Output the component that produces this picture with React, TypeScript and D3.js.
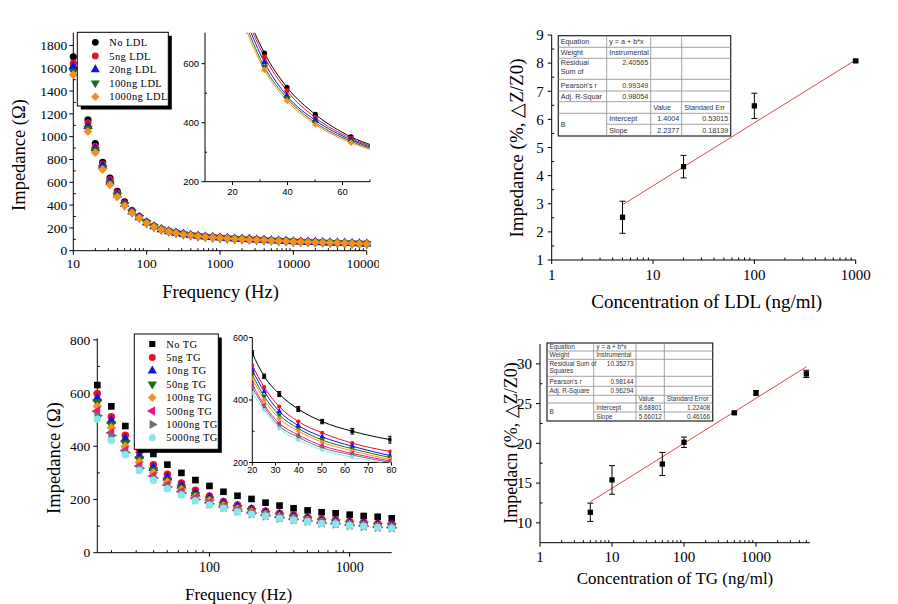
import * as d3 from "d3";

const SERIF = "'Liberation Serif', 'Times New Roman', serif";
const SANS = "'Liberation Sans', Arial, sans-serif";

// ---------- top-left: impedance spectra with LDL ----------
const ldlFreq = [10, 15.85, 19.95, 25.12, 31.62, 39.81, 50.12, 63.1, 79.43, 100, 125.9, 158.5, 199.5, 251.2, 316.2, 398.1, 501.2, 631, 794.3, 1000, 1259, 1585, 1995, 2512, 3162, 3981, 5012, 6310, 7943, 10000, 12589, 15849, 19953, 25119, 31623, 39811, 50119, 63096, 79433, 100000];
const ldlNone = [1700, 1148, 940, 775, 636, 520, 428, 352, 300, 252, 216, 190, 172, 158, 147, 138, 131, 125, 120, 115, 111, 107, 104, 101, 98, 95, 92, 89, 86, 83, 80, 78, 76, 74, 72, 70, 68, 66, 64, 62];
const ldl5 = [1645, 1120, 915, 760, 623, 508, 417, 347, 296, 249, 214, 189, 171, 157, 146, 137, 130, 124, 119, 114, 110, 106, 103, 100, 97, 94, 91, 88, 85, 82, 79, 77, 75, 73, 71, 69, 67, 65, 63, 61];
const ldl20 = [1615, 1092, 897, 745, 605, 491, 408, 342, 292, 246, 212, 187, 169, 156, 145, 136, 129, 123, 118, 113, 109, 105, 102, 99, 96, 93, 90, 87, 84, 81, 79, 77, 75, 73, 71, 69, 67, 65, 63, 61];
const ldl100 = [1572, 1072, 880, 728, 589, 483, 400, 337, 289, 244, 210, 186, 168, 155, 144, 135, 128, 122, 117, 112, 108, 104, 101, 98, 95, 92, 89, 86, 83, 80, 78, 76, 74, 72, 70, 68, 66, 64, 62, 60];
const ldl1000 = [1543, 1045, 860, 712, 579, 474, 394, 332, 286, 242, 209, 185, 167, 154, 143, 134, 127, 121, 116, 111, 107, 103, 100, 97, 94, 91, 88, 85, 82, 79, 77, 75, 73, 71, 69, 67, 65, 63, 61, 59];
const ldlSeries = [ldlNone, ldl5, ldl20, ldl100, ldl1000];
const ldlNames = ["No LDL", "5ng LDL", "20ng LDL", "100ng LDL", "1000ng LDL"];
const ldlColors = ["#000000", "#e8102a", "#1414dc", "#1d6b1d", "#f5901e"];
const ldlShapes: [d3.SymbolType, number][] = [
  [d3.symbolCircle, 0], [d3.symbolCircle, 0], [d3.symbolTriangle, 0], [d3.symbolTriangle, 180], [d3.symbolSquare, 45],
];
const freqTicksTop = [10, 100, 1000, 10000, 100000];
const impTicksTop = [0, 200, 400, 600, 800, 1000, 1200, 1400, 1600, 1800];
const insetTopX = [20, 40, 60];
const insetTopY = [200, 400, 600];

// ---------- top-right: LDL calibration ----------
const ldlConc = [5, 20, 100, 1000];
const ldlResp = [2.52, 4.32, 6.48, 8.08];
const ldlErr = [0.57, 0.4, 0.45, 0.05];
const ldlIntercept = 1.4004;
const ldlSlope = 2.2377;
const concTicksLdl = [1, 10, 100, 1000];
const respTicksLdl = [1, 2, 3, 4, 5, 6, 7, 8, 9];
const ldlTable = [
  ["Equation", "y = a + b*x", "", ""],
  ["Weight", "Instrumental", "", ""],
  ["Residual\nSum of", "2.40565", "", ""],
  ["Pearson's r", "0.99349", "", ""],
  ["Adj. R-Squar", "0.98054", "", ""],
  ["", "", "Value", "Standard Err"],
  ["B", "Intercept", "1.4004", "0.53015"],
  ["", "Slope", "2.2377", "0.18139"],
];

// ---------- bottom-left: impedance spectra with TG ----------
const tgFreq = [15.85, 19.95, 25.12, 31.62, 39.81, 50.12, 63.1, 79.43, 100, 125.9, 158.5, 199.5, 251.2, 316.2, 398.1, 501.2, 631, 794.3, 1000, 1259, 1585, 1995];
const tgNone = [630, 550, 476, 419, 371, 331, 300, 273, 251, 229, 214, 202, 188, 177, 167, 159, 152, 148, 143, 138, 135, 129];
const tgNoneErr = [8, 8, 7, 8, 8, 7, 9, 11, 6, 6, 5, 5, 5, 5, 5, 5, 5, 5, 5, 5, 5, 5];
const tg5 = [598, 511, 441, 379, 331, 295, 262, 235, 213, 192, 179, 166, 157, 148, 142, 132, 126, 123, 117, 114, 110, 108];
const tg10 = [580, 496, 427, 364, 318, 282, 252, 222, 205, 186, 173, 161, 151, 143, 136, 128, 121, 118, 112, 109, 105, 103];
const tg50 = [566, 482, 412, 352, 309, 272, 244, 216, 200, 181, 168, 157, 147, 139, 132, 125, 118, 114, 109, 106, 102, 100];
const tg100 = [550, 470, 400, 341, 301, 265, 237, 210, 195, 177, 164, 153, 144, 136, 129, 122, 115, 112, 106, 103, 99, 97];
const tg500 = [532, 451, 384, 326, 288, 254, 229, 205, 188, 172, 159, 149, 141, 133, 126, 120, 113, 110, 104, 101, 97, 95];
const tg1000 = [515, 440, 377, 317, 281, 247, 224, 200, 184, 170, 157, 147, 139, 131, 125, 119, 112, 109, 103, 100, 96, 94];
const tg5000 = [502, 422, 368, 309, 272, 240, 217, 195, 179, 167, 154, 145, 138, 129, 123, 117, 110, 108, 102, 99, 95, 92];
const tgSeries = [tgNone, tg5, tg10, tg50, tg100, tg500, tg1000, tg5000];
const tgNames = ["No TG", "5ng TG", "10ng TG", "50ng TG", "100ng TG", "500ng TG", "1000ng TG", "5000ng TG"];
const tgColors = ["#000000", "#e8102a", "#1414dc", "#1d6b1d", "#f5901e", "#f0148c", "#707070", "#86e8ee"];
const tgShapes: [d3.SymbolType, number][] = [
  [d3.symbolSquare, 0], [d3.symbolCircle, 0], [d3.symbolTriangle, 0], [d3.symbolTriangle, 180],
  [d3.symbolSquare, 45], [d3.symbolTriangle, -90], [d3.symbolTriangle, 90], [d3.symbolCircle, 0],
];
const freqTicksBottom = [100, 1000];
const impTicksBottom = [0, 200, 400, 600, 800];
const insetBottomX = [20, 30, 40, 50, 60, 70, 80];
const insetBottomY = [200, 400, 600];

// ---------- bottom-right: TG calibration ----------
const tgConc = [5, 10, 50, 100, 500, 1000, 5000];
const tgResp = [11.33, 15.4, 17.4, 20.14, 23.84, 26.35, 28.74];
const tgErr = [1.15, 1.8, 1.45, 0.65, 0.15, 0.3, 0.45];
const tgIntercept = 8.68801;
const tgSlope = 5.66012;
const concTicksTg = [1, 10, 100, 1000];
const respTicksTg = [10, 15, 20, 25, 30];
const tgTable = [
  ["Equation", "y = a + b*x", "", ""],
  ["Weight", "Instrumental", "", ""],
  ["Residual Sum of\nSquares", "10.35273", "", ""],
  ["Pearson's r", "0.98144", "", ""],
  ["Adj. R-Square", "0.96294", "", ""],
  ["", "", "Value", "Standard Error"],
  ["B", "Intercept", "8.68801", "1.22408"],
  ["", "Slope", "5.66012", "0.46166"],
];

type Scale = d3.ScaleLinear<number, number> | d3.ScaleLogarithmic<number, number>;

const sym = (type: d3.SymbolType, size: number) => d3.symbol().type(type).size(size)() ?? "";

function Marker({ x, y, shape, size, color }: { x: number; y: number; shape: [d3.SymbolType, number]; size: number; color: string }) {
  return <path d={sym(shape[0], size)} transform={`translate(${x},${y}) rotate(${shape[1]})`} fill={color} />;
}

function BottomAxis({ scale, y, major, minor, fontSize, font, labelGap = 14, fmt = (v: number) => String(v) }: {
  scale: Scale; y: number; major: number[]; minor: number[]; fontSize: number; font: string; labelGap?: number; fmt?: (v: number) => string;
}) {
  const [r0, r1] = scale.range();
  return (
    <g>
      <line x1={r0} x2={r1} y1={y} y2={y} stroke="#000" />
      {minor.map((v, i) => (
        <line key={"m" + i} x1={scale(v)} x2={scale(v)} y1={y} y2={y - 2.5} stroke="#000" />
      ))}
      {major.map((v) => (
        <g key={v}>
          <line x1={scale(v)} x2={scale(v)} y1={y} y2={y + 4} stroke="#000" />
          <text x={scale(v)} y={y + labelGap} dy="0.35em" textAnchor="middle" fontSize={fontSize} fontFamily={font}>{fmt(v)}</text>
        </g>
      ))}
    </g>
  );
}

function LeftAxis({ scale, x, major, minor, fontSize, font, labelGap = 6 }: {
  scale: Scale; x: number; major: number[]; minor: number[]; fontSize: number; font: string; labelGap?: number;
}) {
  const [r0, r1] = scale.range();
  return (
    <g>
      <line x1={x} x2={x} y1={r0} y2={r1} stroke="#000" />
      {minor.map((v, i) => (
        <line key={"m" + i} x1={x} x2={x + 2.5} y1={scale(v)} y2={scale(v)} stroke="#000" />
      ))}
      {major.map((v) => (
        <g key={v}>
          <line x1={x} x2={x - 4} y1={scale(v)} y2={scale(v)} stroke="#000" />
          <text x={x - labelGap} y={scale(v)} dy="0.35em" textAnchor="end" fontSize={fontSize} fontFamily={font}>{v}</text>
        </g>
      ))}
    </g>
  );
}

function FitTable({ rows, colX, rowY, fontSize }: { rows: string[][]; colX: number[]; rowY: number[]; fontSize: number }) {
  const isNum = (s: string) => /^[0-9.]+$/.test(s);
  const lines: JSX.Element[] = [];
  rowY.forEach((yy, i) => {
    if (i === 0 || i === rowY.length - 1) return;
    // merged "B" cell spans the last two rows
    const x0 = i === rowY.length - 2 ? colX[1] : colX[0];
    lines.push(<line key={"h" + i} x1={x0} x2={colX[4]} y1={yy} y2={yy} stroke="#8a8a8a" strokeWidth={0.8} />);
  });
  colX.slice(1, 4).forEach((xx, i) => {
    lines.push(<line key={"v" + i} x1={xx} x2={xx} y1={rowY[0]} y2={rowY[rowY.length - 1]} stroke="#8a8a8a" strokeWidth={0.8} />);
  });
  const cells: JSX.Element[] = [];
  rows.forEach((row, r) => {
    row.forEach((txt, c) => {
      if (!txt) return;
      const parts = txt.split("\n");
      const y0 = rowY[r];
      let y1 = rowY[r + 1];
      if (txt === "B") y1 = rowY[r + 2];
      const right = isNum(txt);
      const tx = right ? colX[c + 1] - 2.5 : colX[c] + 2.5;
      const lh = fontSize * 1.15;
      const top = parts.length > 1 ? y0 + lh * 0.85 : (y0 + y1) / 2 + fontSize * 0.35;
      const ty = right && parts.length === 1 && r === 2 ? y0 + lh * 0.85 : top;
      parts.forEach((p, k) => {
        cells.push(
          <text key={`${r}-${c}-${k}`} x={tx} y={ty + k * lh} textAnchor={right ? "end" : "start"} fontSize={fontSize} fontFamily={SANS} fill="#333">{p}</text>
        );
      });
    });
  });
  return (
    <g>
      <rect x={colX[0]} y={rowY[0]} width={colX[4] - colX[0]} height={rowY[rowY.length - 1] - rowY[0]} fill="#fff" stroke="#222" strokeWidth={1.2} />
      {lines}
      {cells}
    </g>
  );
}

function Legend({ x, y, w, h, names, colors, shapes, step, size, fontSize }: {
  x: number; y: number; w: number; h: number; names: string[]; colors: string[]; shapes: [d3.SymbolType, number][]; step: number; size: number; fontSize: number;
}) {
  return (
    <g>
      <rect x={x + 3.5} y={y + 3.5} width={w} height={h} fill="#000" />
      <rect x={x} y={y} width={w} height={h} fill="#fff" stroke="#000" />
      {names.map((n, i) => (
        <g key={n}>
          <Marker x={x + 18} y={y + 10 + i * step} shape={shapes[i]} size={size} color={colors[i]} />
          <text x={x + 32} y={y + 10 + i * step} dy="0.35em" fontSize={fontSize} fontFamily={SERIF} letterSpacing={0.4}>{n}</text>
        </g>
      ))}
    </g>
  );
}

export default function App() {
  // ---- panel A (top-left)
  const xA = d3.scaleLog().domain([10, 100000]).range([73.3, 366.7]);
  const yA = d3.scaleLinear().domain([0, 1912]).range([250.7, 32.7]);
  const ixA = d3.scaleLinear().domain([10, 70]).range([205, 370]);
  const iyA = d3.scaleLinear().domain([200, 705]).range([181.7, 32.7]);

  // ---- panel B (top-right)
  const xB = d3.scaleLog().domain([1, 1000]).range([551.7, 855.7]);
  const yB = d3.scaleLinear().domain([1, 9]).range([260, 35]);

  // ---- panel C (bottom-left)
  const xC = d3.scaleLog().domain([15.85, 1995]).range([97.3, 391.7]);
  const yC = d3.scaleLinear().domain([0, 805]).range([552.7, 338.5]);
  const ixC = d3.scaleLinear().domain([20, 80]).range([252.3, 391.5]);
  const iyC = d3.scaleLinear().domain([200, 600]).range([462.5, 337.5]);

  // ---- panel D (bottom-right)
  const xD = d3.scaleLog().domain([1, 5623]).range([540, 810]);
  const yD = d3.scaleLinear().domain([7.5, 32.5]).range([542.7, 344]);

  const logMinor = (s: d3.ScaleLogarithmic<number, number>, major: number[]) =>
    s.ticks().filter((t) => !major.some((m) => Math.abs(m - t) < 1e-9));

  const curve = d3.line().curve(d3.curveMonotoneX);
  const fitLine = d3.line();

  return (
    <svg width={898} height={604} style={{ position: "absolute", left: 0, top: 0, background: "#fff" }}>
      <defs>
        <clipPath id="clipA"><rect x={0} y={0} width={379} height={310} /></clipPath>
        <clipPath id="insetA"><rect x={205} y={32.7} width={165} height={149} /></clipPath>
        <clipPath id="insetC"><rect x={252.3} y={337.5} width={139.2} height={125} /></clipPath>
      </defs>

      {/* ===== Panel A ===== */}
      <g clipPath="url(#clipA)">
        <LeftAxis scale={yA} x={73.3} major={impTicksTop} minor={d3.range(100, 1900, 200)} fontSize={13.5} font={SERIF} />
        <BottomAxis scale={xA} y={250.7} major={freqTicksTop} minor={logMinor(xA, freqTicksTop)} fontSize={13.5} font={SERIF} labelGap={13} />
        {ldlSeries.map((s, k) => (
          <g key={k}>
            {s.map((v, i) => (
              <Marker key={i} x={xA(ldlFreq[i])} y={yA(v)} shape={ldlShapes[k]} size={40} color={ldlColors[k]} />
            ))}
          </g>
        ))}
        {/* inset */}
        <line x1={205} x2={205} y1={32.7} y2={181.7} stroke="#000" />
        <line x1={205} x2={370} y1={181.7} y2={181.7} stroke="#000" />
        {insetTopY.map((v) => (
          <g key={v}>
            <line x1={205} x2={201.5} y1={iyA(v)} y2={iyA(v)} stroke="#000" />
            <text x={199} y={iyA(v)} dy="0.35em" textAnchor="end" fontSize={9.5} fontFamily={SANS}>{v}</text>
          </g>
        ))}
        {[300, 500].map((v) => <line key={v} x1={205} x2={207} y1={iyA(v)} y2={iyA(v)} stroke="#000" />)}
        {insetTopX.map((v) => (
          <g key={v}>
            <line x1={ixA(v)} x2={ixA(v)} y1={181.7} y2={185} stroke="#000" />
            <text x={ixA(v)} y={192} dy="0.35em" textAnchor="middle" fontSize={9.5} fontFamily={SANS}>{v}</text>
          </g>
        ))}
        {[30, 50, 70].map((v) => <line key={v} x1={ixA(v)} x2={ixA(v)} y1={181.7} y2={179.5} stroke="#000" />)}
        <g clipPath="url(#insetA)">
          {ldlSeries.map((s, k) => {
            const pts = s
              .map((v, i) => [ixA(ldlFreq[i]), iyA(v)] as [number, number])
              .filter((_, i) => ldlFreq[i] >= 15 && ldlFreq[i] <= 100);
            return <path key={k} d={curve(pts) ?? ""} fill="none" stroke={ldlColors[k]} strokeWidth={1} />;
          })}
          {ldlSeries.map((s, k) => (
            <g key={k}>
              {s.map((v, i) => (ldlFreq[i] > 25 && ldlFreq[i] < 70 ? (
                <Marker key={i} x={ixA(ldlFreq[i])} y={iyA(v)} shape={ldlShapes[k]} size={22} color={ldlColors[k]} />
              ) : null))}
            </g>
          ))}
        </g>
        <Legend x={77.3} y={32.3} w={91} h={73.7} names={ldlNames} colors={ldlColors} shapes={ldlShapes} step={13.6} size={36} fontSize={10.5} />
        <text transform="translate(25,155) rotate(-90)" textAnchor="middle" fontSize={18.5} fontFamily={SERIF}>Impedance (Ω)</text>
        <text x={220.5} y={298} textAnchor="middle" fontSize={18.5} fontFamily={SERIF}>Frequency (Hz)</text>
      </g>

      {/* ===== Panel B ===== */}
      <LeftAxis scale={yB} x={551.7} major={respTicksLdl} minor={d3.range(1.5, 9, 1)} fontSize={15} font={SERIF} labelGap={8} />
      <BottomAxis scale={xB} y={260} major={concTicksLdl} minor={logMinor(xB, concTicksLdl)} fontSize={15} font={SERIF} labelGap={15} />
      <path
        d={fitLine([ldlConc[0], ldlConc[ldlConc.length - 1]].map((c) => [xB(c), yB(ldlIntercept + ldlSlope * Math.log10(c))] as [number, number])) ?? ""}
        stroke="#e04848" strokeWidth={1} fill="none"
      />
      {ldlConc.map((c, i) => (
        <g key={c}>
          <line x1={xB(c)} x2={xB(c)} y1={yB(ldlResp[i] - ldlErr[i])} y2={yB(ldlResp[i] + ldlErr[i])} stroke="#000" />
          <line x1={xB(c) - 3} x2={xB(c) + 3} y1={yB(ldlResp[i] - ldlErr[i])} y2={yB(ldlResp[i] - ldlErr[i])} stroke="#000" />
          <line x1={xB(c) - 3} x2={xB(c) + 3} y1={yB(ldlResp[i] + ldlErr[i])} y2={yB(ldlResp[i] + ldlErr[i])} stroke="#000" />
          <Marker x={xB(c)} y={yB(ldlResp[i])} shape={[d3.symbolSquare, 0]} size={28} color="#000" />
        </g>
      ))}
      <FitTable rows={ldlTable} colX={[558.3, 606.7, 650.7, 681.7, 730.7]} rowY={[35.7, 47.3, 58.3, 79.3, 91, 101.7, 113.3, 124.3, 136]} fontSize={7.2} />
      <text transform="translate(523,148) rotate(-90)" textAnchor="middle" fontSize={19} fontFamily={SERIF}>Impedance (%, △Z/Z0)</text>
      <text x={706.7} y={308} textAnchor="middle" fontSize={19} fontFamily={SERIF}>Concentration of LDL (ng/ml)</text>

      {/* ===== Panel C ===== */}
      <LeftAxis scale={yC} x={97.3} major={impTicksBottom} minor={d3.range(100, 800, 200)} fontSize={13.5} font={SERIF} labelGap={7} />
      <BottomAxis scale={xC} y={552.7} major={freqTicksBottom} minor={logMinor(xC, freqTicksBottom)} fontSize={14} font={SERIF} labelGap={14} />
      {tgSeries.map((s, k) => (
        <g key={k}>
          {s.map((v, i) => (
            <Marker key={i} x={xC(tgFreq[i])} y={yC(v)} shape={tgShapes[k]} size={44} color={tgColors[k]} />
          ))}
        </g>
      ))}
      {/* inset */}
      <line x1={252.3} x2={252.3} y1={337.5} y2={462.5} stroke="#000" />
      <line x1={252.3} x2={391.5} y1={462.5} y2={462.5} stroke="#000" />
      {insetBottomY.map((v) => (
        <g key={v}>
          <line x1={252.3} x2={249} y1={iyC(v)} y2={iyC(v)} stroke="#000" />
          <text x={248} y={iyC(v)} dy="0.35em" textAnchor="end" fontSize={9} fontFamily={SANS}>{v}</text>
        </g>
      ))}
      {[300, 500].map((v) => <line key={v} x1={252.3} x2={254.5} y1={iyC(v)} y2={iyC(v)} stroke="#000" />)}
      {insetBottomX.map((v) => (
        <g key={v}>
          <line x1={ixC(v)} x2={ixC(v)} y1={462.5} y2={465.5} stroke="#000" />
          <text x={ixC(v)} y={470} dy="0.35em" textAnchor="middle" fontSize={9} fontFamily={SANS}>{v}</text>
        </g>
      ))}
      <g clipPath="url(#insetC)">
        {tgSeries.map((s, k) => {
          const pts = s
            .map((v, i) => [ixC(tgFreq[i]), iyC(v)] as [number, number])
            .filter((_, i) => tgFreq[i] >= 19 && tgFreq[i] <= 80);
          return <path key={k} d={curve(pts) ?? ""} fill="none" stroke={tgColors[k]} strokeWidth={1} />;
        })}
        {tgSeries.map((s, k) => (
          <g key={k}>
            {s.map((v, i) => (tgFreq[i] >= 19 && tgFreq[i] <= 80 ? (
              <g key={i}>
                {k === 0 && i > 0 ? (
                  <g>
                    <line x1={ixC(tgFreq[i])} x2={ixC(tgFreq[i])} y1={iyC(v - tgNoneErr[i])} y2={iyC(v + tgNoneErr[i])} stroke="#000" />
                    <line x1={ixC(tgFreq[i]) - 2} x2={ixC(tgFreq[i]) + 2} y1={iyC(v - tgNoneErr[i])} y2={iyC(v - tgNoneErr[i])} stroke="#000" />
                    <line x1={ixC(tgFreq[i]) - 2} x2={ixC(tgFreq[i]) + 2} y1={iyC(v + tgNoneErr[i])} y2={iyC(v + tgNoneErr[i])} stroke="#000" />
                  </g>
                ) : null}
                <Marker x={ixC(tgFreq[i])} y={iyC(v)} shape={tgShapes[k]} size={14} color={tgColors[k]} />
              </g>
            ) : null))}
          </g>
        ))}
      </g>
      <Legend x={134.3} y={334} w={84} h={115.3} names={tgNames} colors={tgColors} shapes={tgShapes} step={13.4} size={38} fontSize={10.5} />
      <text transform="translate(60,458) rotate(-90)" textAnchor="middle" fontSize={18.5} fontFamily={SERIF}>Impedance (Ω)</text>
      <text x={238.5} y={600} textAnchor="middle" fontSize={17} fontFamily={SERIF}>Frequency (Hz)</text>

      {/* ===== Panel D ===== */}
      <LeftAxis scale={yD} x={540} major={respTicksTg} minor={d3.range(12.5, 32.5, 5)} fontSize={15} font={SERIF} labelGap={8} />
      <BottomAxis scale={xD} y={542.7} major={concTicksTg} minor={logMinor(xD, concTicksTg)} fontSize={15} font={SERIF} labelGap={14} />
      <path
        d={fitLine([tgConc[0], tgConc[tgConc.length - 1]].map((c) => [xD(c), yD(tgIntercept + tgSlope * Math.log10(c))] as [number, number])) ?? ""}
        stroke="#e04848" strokeWidth={1} fill="none"
      />
      {tgConc.map((c, i) => (
        <g key={c}>
          <line x1={xD(c)} x2={xD(c)} y1={yD(tgResp[i] - tgErr[i])} y2={yD(tgResp[i] + tgErr[i])} stroke="#000" />
          <line x1={xD(c) - 3} x2={xD(c) + 3} y1={yD(tgResp[i] - tgErr[i])} y2={yD(tgResp[i] - tgErr[i])} stroke="#000" />
          <line x1={xD(c) - 3} x2={xD(c) + 3} y1={yD(tgResp[i] + tgErr[i])} y2={yD(tgResp[i] + tgErr[i])} stroke="#000" />
          <Marker x={xD(c)} y={yD(tgResp[i])} shape={[d3.symbolSquare, 0]} size={28} color="#000" />
        </g>
      ))}
      <FitTable rows={tgTable} colX={[547, 593.7, 636, 664.3, 712.7]} rowY={[343, 351, 359.3, 376.3, 386.3, 395.3, 403, 412, 421]} fontSize={6.4} />
      <text transform="translate(517,443) rotate(-90)" textAnchor="middle" fontSize={18} fontFamily={SERIF}>Impedacn (%, △Z/Z0)</text>
      <text x={675} y={584} textAnchor="middle" fontSize={17} fontFamily={SERIF}>Concentration of TG (ng/ml)</text>
    </svg>
  );
}
